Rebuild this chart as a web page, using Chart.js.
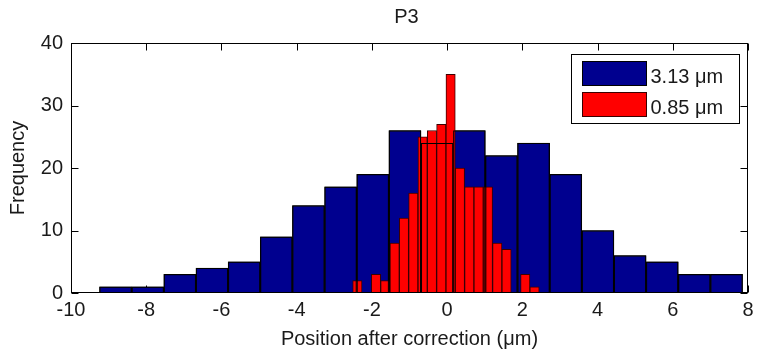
<!DOCTYPE html>
<html>
<head>
<meta charset="utf-8">
<script src="https://cdn.jsdelivr.net/npm/chart.js@4/dist/chart.umd.min.js"></script>
<style>
html,body{margin:0;padding:0;background:#fff;}
#wrap{width:759px;height:351px;}
</style>
</head>
<body>
<div id="wrap"><canvas id="c" width="759" height="351"></canvas></div>
<script>
// ---- data ----
const chartTitle = 'P3';
const xAxisTitle = 'Position after correction (\u03bcm)';
const yAxisTitle = 'Frequency';
const seriesLabels = ['3.13 \u03bcm', '0.85 \u03bcm'];

const blueBinCenters = [-8.815, -7.960, -7.105, -6.250, -5.395, -4.540, -3.685, -2.830, -1.975, -1.120,
                        -0.265, 0.590, 1.445, 2.300, 3.155, 4.010, 4.865, 5.720, 6.575, 7.430];
const blueCounts     = [1, 1, 3, 4, 5, 9, 14, 17, 19, 26,
                        24, 26, 22, 24, 19, 10, 6, 5, 3, 3];

const redBinCenters  = [-2.386, -2.138, -1.890, -1.642, -1.394, -1.146, -0.898, -0.650, -0.402, -0.154,
                        0.094, 0.342, 0.590, 0.838, 1.086, 1.334, 1.582, 1.830, 2.078, 2.326];
const redCounts      = [2, 0, 3, 2, 8, 12, 16, 25, 26, 27,
                        35, 20, 17, 17, 17, 8, 7, 0, 3, 1];

const xTickValues = [-10, -8, -6, -4, -2, 0, 2, 4, 6, 8];
const yTickValues = [0, 10, 20, 30, 40];

// ---- styles ----
const FONT = "'Liberation Sans', Arial, Helvetica, sans-serif";
const FS = 20;
const TXT = '#1a1a1a';
const BLUE = '#00008F';
const RED = '#FF0000';

const toPoints = (xs, ys) => xs.map((x, i) => ({x: x, y: ys[i]}));

const framePlugin = {
  id: 'frame',
  beforeDatasetsDraw(chart) {
    const {ctx, chartArea: a, scales} = chart;
    const L = Math.round(a.left) + 0.5, R = Math.round(a.right) - 0.5;
    const T = Math.round(a.top) + 0.5, B = Math.round(a.bottom) - 0.5;
    const tl = 7;
    ctx.save();
    ctx.strokeStyle = '#000';
    ctx.lineWidth = 1;
    ctx.strokeRect(L, T, R - L, B - T);
    ctx.beginPath();
    scales.x.ticks.forEach(t => {
      const px = Math.round(scales.x.getPixelForValue(t.value)) + 0.5;
      ctx.moveTo(px, B); ctx.lineTo(px, B - tl);
      ctx.moveTo(px, T); ctx.lineTo(px, T + tl);
    });
    scales.y.ticks.forEach(t => {
      const py = Math.round(scales.y.getPixelForValue(t.value)) + 0.5;
      ctx.moveTo(L, py); ctx.lineTo(L + tl, py);
      ctx.moveTo(R, py); ctx.lineTo(R - tl, py);
    });
    ctx.stroke();
    ctx.restore();
  },
  afterDatasetsDraw(chart) {
    // the wide histogram's bar edges show through on top of the narrow one
    const {ctx} = chart;
    const meta = chart.getDatasetMeta(0);
    const bw = 1;
    ctx.save();
    ctx.fillStyle = '#000';
    meta.data.forEach(el => {
      const p = el.getProps(['x', 'y', 'base', 'width'], true);
      const l = p.x - p.width / 2, r = p.x + p.width / 2;
      const t = Math.min(p.y, p.base), b = Math.max(p.y, p.base);
      if (b - t < 0.5) return;
      ctx.beginPath();
      ctx.rect(l, t, r - l, b - t);
      ctx.rect(l + bw, t + bw, r - l - 2 * bw, Math.max(0, b - t - 2 * bw));
      ctx.fill('evenodd');
    });
    ctx.restore();
  },
  afterDraw(chart) {
    const {ctx, chartArea: a} = chart;
    ctx.save();
    // title
    ctx.fillStyle = TXT;
    ctx.font = FS + 'px ' + FONT;
    ctx.textAlign = 'center';
    ctx.textBaseline = 'middle';
    ctx.fillText(chartTitle, (a.left + a.right) / 2 - 3, 17);
    // legend box
    const bx = Math.round(a.right) - 176.5, by = Math.round(a.top) + 11.5;
    const bw = 168, bh = 69;
    ctx.fillStyle = '#fff';
    ctx.fillRect(bx, by, bw, bh);
    ctx.strokeStyle = '#000';
    ctx.lineWidth = 1;
    ctx.strokeRect(bx, by, bw, bh);
    chart.data.datasets.forEach((ds, i) => {
      const sx = bx + 11, sy = by + 7 + i * 31;
      ctx.fillStyle = ds.backgroundColor;
      ctx.fillRect(sx, sy, 64, 24);
      ctx.strokeStyle = ds.borderColor;
      ctx.strokeRect(sx, sy, 64, 24);
      ctx.fillStyle = TXT;
      ctx.font = FS + 'px ' + FONT;
      ctx.textAlign = 'left';
      ctx.textBaseline = 'middle';
      ctx.fillText(ds.label, sx + 68, sy + 16);
    });
    ctx.restore();
  }
};

const xAxisBase = {
  type: 'linear',
  min: xTickValues[0],
  max: xTickValues[xTickValues.length - 1],
  offset: false,
  grid: {display: false, drawTicks: false},
  border: {display: false},
  afterBuildTicks: s => { s.ticks = xTickValues.map(v => ({value: v})); }
};

new Chart(document.getElementById('c'), {
  type: 'bar',
  data: {
    datasets: [
      {
        label: seriesLabels[0],
        data: toPoints(blueBinCenters, blueCounts),
        xAxisID: 'x',
        backgroundColor: BLUE,
        borderColor: '#000',
        borderWidth: 1,
        borderSkipped: false,
        barPercentage: 1,
        categoryPercentage: 1,
        grouped: false,
        order: 2
      },
      {
        label: seriesLabels[1],
        data: toPoints(redBinCenters, redCounts),
        xAxisID: 'x2',
        backgroundColor: RED,
        borderColor: '#3a0000',
        borderWidth: 1,
        borderSkipped: false,
        barPercentage: 1,
        categoryPercentage: 1,
        grouped: false,
        order: 1
      }
    ]
  },
  options: {
    responsive: false,
    animation: false,
    devicePixelRatio: 1,
    layout: {padding: {top: 43, right: 11, left: 0, bottom: 0}},
    plugins: {
      legend: {display: false},
      title: {display: false},
      tooltip: {enabled: false}
    },
    scales: {
      x: Object.assign({}, xAxisBase, {
        position: 'bottom',
        ticks: {color: TXT, font: {family: FONT, size: FS}, padding: 5.5, maxRotation: 0, autoSkip: false},
        title: {display: true, text: xAxisTitle, color: TXT, font: {family: FONT, size: FS}, padding: {top: 0, bottom: 0}},
        afterFit: s => { s.height = 58; }
      }),
      x2: Object.assign({}, xAxisBase, {
        position: 'bottom',
        display: false
      }),
      y: {
        type: 'linear',
        min: yTickValues[0],
        max: yTickValues[yTickValues.length - 1],
        grid: {display: false, drawTicks: false},
        border: {display: false},
        ticks: {color: TXT, font: {family: FONT, size: FS}, padding: 8},
        afterBuildTicks: s => { s.ticks = yTickValues.map(v => ({value: v})); },
        title: {display: true, text: yAxisTitle, color: TXT, font: {family: FONT, size: FS}, padding: {top: 6.5, bottom: 0}},
        afterFit: s => { s.width = 71; }
      }
    }
  },
  plugins: [framePlugin]
});
</script>
</body>
</html>
